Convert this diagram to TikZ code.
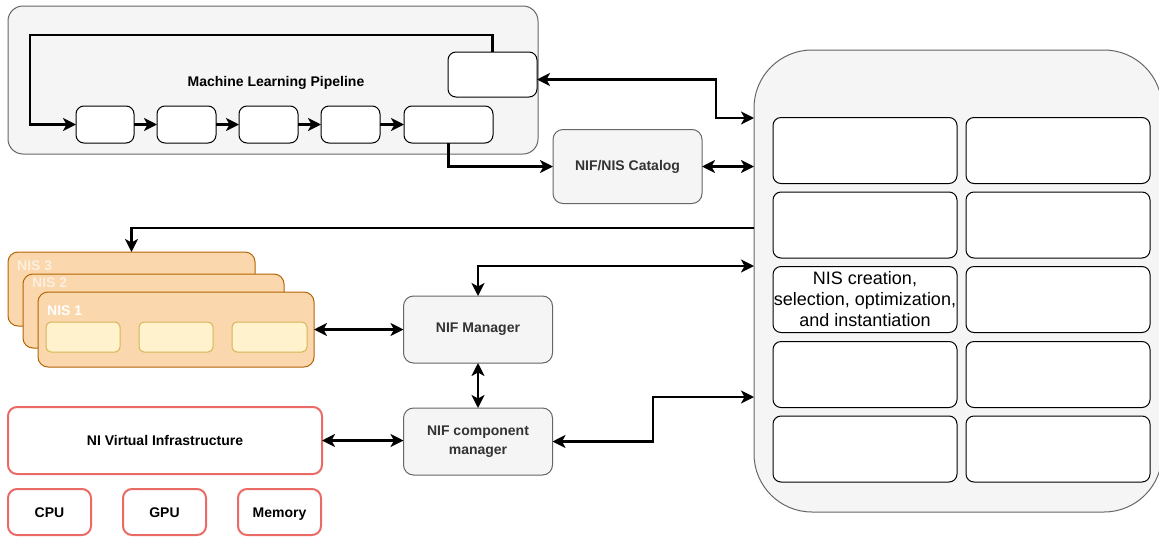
\documentclass[tikz,border=0pt]{standalone}
\usepackage{fontspec}
\setmainfont{Liberation Sans}
\usetikzlibrary{arrows.meta}
\definecolor{grp_fill}{HTML}{F5F5F5}
\definecolor{grp_line}{HTML}{666666}
\definecolor{txt_dark}{HTML}{333333}
\definecolor{nis_fill}{HTML}{FAD7AC}
\definecolor{nis_line}{HTML}{B46504}
\definecolor{cell_fill}{HTML}{FFF2CC}
\definecolor{cell_line}{HTML}{D6B656}
\definecolor{hw_line}{HTML}{EA6B66}
\tikzset{sz/.style 2 args={minimum width=#1pt,minimum height=#2pt}}
\tikzstyle{grp}=[rectangle,rounded corners=15pt,fill=grp_fill,draw=grp_line,
  line width=1pt,inner sep=2pt,outer sep=0pt]
\tikzstyle{blk}=[rectangle,rounded corners=8pt,fill=white,draw=black,
  line width=1pt,inner sep=2pt,outer sep=0pt]
\tikzstyle{mgr}=[rectangle,rounded corners=10pt,fill=grp_fill,draw=grp_line,
  line width=1pt,inner sep=2pt,outer sep=0pt,align=center,text=txt_dark,
  font=\fontsize{14}{19}\selectfont\bfseries]
\tikzstyle{nis}=[rectangle,rounded corners=10pt,fill=nis_fill,draw=nis_line,
  line width=1pt,inner sep=0pt,outer sep=0pt]
\tikzstyle{nislbl}=[anchor=west,inner sep=0pt,text=white,
  font=\fontsize{14}{16}\selectfont\bfseries]
\tikzstyle{slot}=[rectangle,rounded corners=5pt,fill=cell_fill,draw=cell_line,
  line width=1pt,inner sep=0pt,outer sep=0pt]
\tikzstyle{hw}=[rectangle,rounded corners=9pt,fill=white,draw=hw_line,
  line width=2pt,inner sep=2pt,outer sep=0pt,text height=12pt,text depth=2pt,
  font=\fontsize{14}{16}\selectfont\bfseries]
\tikzstyle{link}=[line width=2.6pt,-{Stealth[length=13pt,width=13pt,inset=3.5pt]}]
\tikzstyle{dlink}=[line width=2.6pt,
  {Stealth[length=13pt,width=13pt,inset=3.5pt]}-{Stealth[length=13pt,width=13pt,inset=3.5pt]}]

\begin{document}
\begin{tikzpicture}[x=1pt,y=-1pt]
    \useasboundingbox (0,0) rectangle (1159,536);
    % machine learning pipeline
    \node [style=grp,sz={530}{148}] (ml) at (273,80) {};
    \node [font=\fontsize{14}{16}\selectfont\bfseries] (mltitle) at (276,83) {Machine Learning Pipeline};
    \node [style=blk,sz={89}{45}] (fb) at (492.5,74.5) {};
    \node [style=blk,sz={58}{37}] (s1) at (105,124.5) {};
    \node [style=blk,sz={59}{37}] (s2) at (186.5,124.5) {};
    \node [style=blk,sz={59}{37}] (s3) at (268.5,124.5) {};
    \node [style=blk,sz={59}{37}] (s4) at (350.5,124.5) {};
    \node [style=blk,sz={89}{37}] (s5) at (448.5,124.5) {};
    \coordinate (loop) at (30,35);
    \draw [style=link] (fb.north) |- (loop) |- (s1.west);
    \draw [style=link] (s1) to (s2);
    \draw [style=link] (s2) to (s3);
    \draw [style=link] (s3) to (s4);
    \draw [style=link] (s4) to (s5);
    % catalog
    \node [style=mgr,sz={149}{74}] (cat) at (627.5,166.5) {NIF/NIS Catalog};
    \draw [style=link] (s5.south) |- (cat.west);
    % right hand container
    \node [style=grp,rounded corners=58pt,sz={408}{462}] (hub) at (958,281) {};
    \node [style=blk,sz={184}{66}] (c11) at (865,150.5) {};
    \node [style=blk,sz={184}{66}] (c12) at (1058,150.5) {};
    \node [style=blk,sz={184}{66}] (c21) at (865,225) {};
    \node [style=blk,sz={184}{66}] (c22) at (1058,225) {};
    \node [style=blk,sz={184}{66},align=center,inner sep=0pt,font=\fontsize{18}{21}\selectfont] (c31) at (865,299.5) {NIS creation,\\selection, optimization,\\and instantiation};
    \node [style=blk,sz={184}{66}] (c32) at (1058,299.5) {};
    \node [style=blk,sz={184}{66}] (c41) at (865,374.5) {};
    \node [style=blk,sz={184}{66}] (c42) at (1058,374.5) {};
    \node [style=blk,sz={184}{66}] (c51) at (865,449) {};
    \node [style=blk,sz={184}{66}] (c52) at (1058,449) {};
    \coordinate (jt) at (716,118);
    \draw [style=dlink] ([yshift=-5pt]fb.east) -| (jt) -- (hub.west |- jt);
    \draw [style=dlink] (cat.east) -- (cat.east -| hub.west);
    % network intelligence services
    \node [style=nis,sz={247}{74}] (nis3) at (131.5,289) {};
    \node [style=nislbl,text opacity=0.6] (n3) at (17,266) {NIS 3};
    \node [style=nis,sz={261}{74}] (nis2) at (153.5,311) {};
    \node [style=nislbl,text opacity=0.6] (n2) at (32,283) {NIS 2};
    \node [style=nis,sz={276}{75}] (nis1) at (176,329.5) {};
    \node [style=nislbl] (n1) at (47,311) {NIS 1};
    \node [style=slot,sz={74}{30}] (a1) at (83,337) {};
    \node [style=slot,sz={74}{30}] (a2) at (176,337) {};
    \node [style=slot,sz={75}{30}] (a3) at (269.5,337) {};
    \coordinate (jn) at (130,228);
    \draw [style=link] (hub.west |- jn) -| (nis3.north);
    % managers
    \node [style=mgr,sz={149}{67}] (mgrn) at (478,329.5) {NIF Manager};
    \node [style=mgr,sz={149}{67}] (comp) at (478,441.5) {NIF component\\manager};
    \coordinate (jm) at (754,266);
    \coordinate (jc) at (653,397);
    \draw [style=dlink] (mgrn.north) |- (hub.west |- jm);
    \draw [style=dlink] (nis1.east) -- (mgrn.west);
    \draw [style=dlink] (mgrn.south) -- (comp.north);
    \draw [style=dlink] (comp.east) -| (jc) -- (hub.west |- jc);
    % infrastructure
    \node [style=hw,sz={314}{67}] (niv) at (165,440.5) {NI Virtual Infrastructure};
    \node [style=hw,sz={83}{46}] (cpu) at (49.5,512) {CPU};
    \node [style=hw,sz={83}{46}] (gpu) at (164.5,512) {GPU};
    \node [style=hw,sz={83}{46}] (mem) at (279.5,512) {Memory};
    \draw [style=dlink] (niv.east) -- (niv.east -| comp.west);
  \end{tikzpicture}
\end{document}
